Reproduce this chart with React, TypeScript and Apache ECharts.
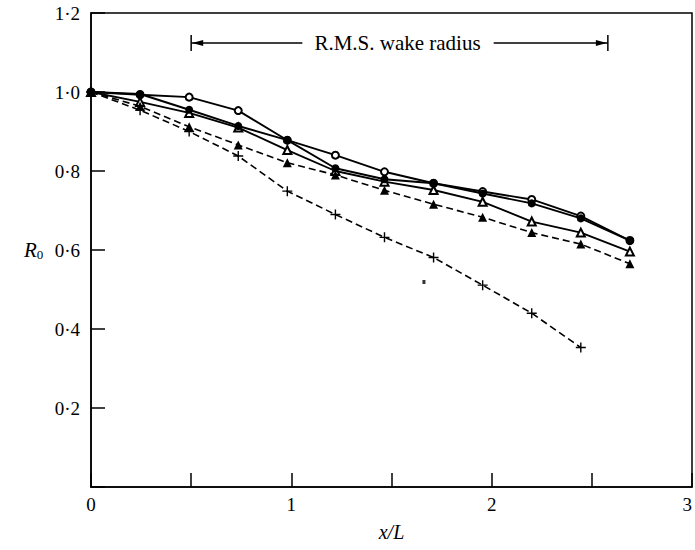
import React, { useEffect, useRef } from "react";
import * as echarts from "echarts";

// x/L stations
const xStations = [0, 0.245, 0.49, 0.735, 0.98, 1.22, 1.465, 1.71, 1.955, 2.2, 2.445, 2.69];
// solid lines
const openCircle = [1.0, 0.993, 0.987, 0.953, 0.878, 0.84, 0.798, 0.769, 0.748, 0.728, 0.686, 0.624];
const filledCircle = [1.0, 0.995, 0.955, 0.914, 0.878, 0.807, 0.779, 0.769, 0.743, 0.718, 0.68, 0.624];
const openTriangle = [1.0, 0.975, 0.947, 0.91, 0.853, 0.8, 0.773, 0.752, 0.722, 0.672, 0.644, 0.596];
// dashed lines
const filledTriangle = [1.0, 0.964, 0.912, 0.866, 0.821, 0.79, 0.751, 0.716, 0.683, 0.644, 0.615, 0.565];
const crosses = [1.0, 0.954, 0.9, 0.838, 0.749, 0.69, 0.632, 0.581, 0.511, 0.44, 0.353];
// stray speck
const speck = [[1.662, 0.519]];

// annotation (data coords)
const annotText = "R.M.S. wake radius";
const annotY = 1.124;
const annotLeft = 0.5;
const annotRight = 2.58;
const annotTextStart = 1.07;
const annotTextEnd = 1.99;

const FONT = "'Liberation Serif', 'DejaVu Serif', serif";
const CROSS = "path://M4.3,0h1.4v4.3h4.3v1.4h-4.3v4.3h-1.4v-4.3h-4.3v-1.4h4.3z";

const pair = (vals: number[]) => vals.map((v, i) => [xStations[i], v]);

export default function App() {
  const ref = useRef<HTMLDivElement>(null);
  useEffect(() => {
    if (!ref.current) return;
    const chart = echarts.init(ref.current, null, { renderer: "svg" });
    const solid = { color: "#000", width: 1.9, type: "solid" as const };
    const dashed = { color: "#000", width: 1.6, type: [7, 4] as any };
    const option: any = {
      animation: false,
      backgroundColor: "#fff",
      grid: {
        left: 91, right: 3, top: 13, bottom: 63,
        outerBoundsMode: "none", containLabel: false,
        show: true, borderColor: "#000", borderWidth: 1.5, backgroundColor: "transparent",
      },
      xAxis: {
        type: "value",
        min: 0,
        max: 3,
        interval: 0.5,
        axisLine: { lineStyle: { color: "#000", width: 1.5 } },
        axisTick: { inside: true, length: 14, lineStyle: { color: "#000", width: 1.5 } },
        splitLine: { show: false },
        axisLabel: {
          color: "#000",
          fontFamily: FONT,
          fontSize: 19,
          margin: 8,
          alignMaxLabel: "right",
          formatter: (v: number) => (Math.abs(v - Math.round(v)) < 1e-6 ? String(Math.round(v)) : ""),
        },
        name: "x/L",
        nameLocation: "middle",
        nameGap: 35,
        nameTextStyle: { color: "#000", fontFamily: FONT, fontSize: 20, fontStyle: "italic" },
      },
      yAxis: {
        type: "value",
        min: 0,
        max: 1.2,
        interval: 0.2,
        axisLine: { lineStyle: { color: "#000", width: 1.5 } },
        axisTick: { inside: true, length: 14, lineStyle: { color: "#000", width: 1.5 } },
        splitLine: { show: false },
        axisLabel: {
          color: "#000",
          fontFamily: FONT,
          fontSize: 19,
          margin: 11,
          formatter: (v: number) => (v === 0 ? "" : v.toFixed(1).replace(".", "·")),
        },
      },
      series: [
        { type: "line", data: pair(openCircle), symbol: "emptyCircle", symbolSize: 7, lineStyle: solid, itemStyle: { color: "#000", borderWidth: 1.4 }, z: 3 },
        { type: "line", data: pair(filledCircle), symbol: "circle", symbolSize: 8, lineStyle: solid, itemStyle: { color: "#000" }, z: 4 },
        { type: "line", data: pair(openTriangle), symbol: "emptyTriangle", symbolSize: 8, lineStyle: solid, itemStyle: { color: "#000", borderWidth: 1.4 }, z: 3 },
        { type: "line", data: pair(filledTriangle), symbol: "triangle", symbolSize: 9, lineStyle: dashed, itemStyle: { color: "#000" }, z: 3 },
        { type: "line", data: pair(crosses), symbol: CROSS, symbolSize: 10, lineStyle: dashed, itemStyle: { color: "#000" }, z: 3 },
        { type: "scatter", data: speck, symbol: "rect", symbolSize: [3, 4], itemStyle: { color: "#000" }, z: 3 },
      ],
    };
    chart.setOption(option);

    const p = (x: number, y: number) => chart.convertToPixel({ gridIndex: 0 }, [x, y]) as number[];
    const L = p(annotLeft, annotY);
    const R = p(annotRight, annotY);
    const TS = p(annotTextStart, annotY);
    const TE = p(annotTextEnd, annotY);
    const cy = L[1];
    const stroke = { stroke: "#000", lineWidth: 1.5 };
    chart.setOption({
      graphic: [
        { type: "line", shape: { x1: L[0], y1: cy - 8, x2: L[0], y2: cy + 8 }, style: stroke },
        { type: "line", shape: { x1: R[0], y1: cy - 8, x2: R[0], y2: cy + 8 }, style: stroke },
        { type: "line", shape: { x1: L[0], y1: cy, x2: TS[0] - 3, y2: cy }, style: stroke },
        { type: "line", shape: { x1: TE[0] + 4, y1: cy, x2: R[0], y2: cy }, style: stroke },
        { type: "polygon", shape: { points: [[L[0] + 1, cy], [L[0] + 12, cy - 3], [L[0] + 12, cy + 3]] }, style: { fill: "#000" } },
        { type: "polygon", shape: { points: [[R[0] - 1, cy], [R[0] - 12, cy - 3], [R[0] - 12, cy + 3]] }, style: { fill: "#000" } },
        {
          type: "text",
          x: (TS[0] + TE[0]) / 2,
          y: cy,
          style: { text: annotText, fill: "#000", font: `21px ${FONT}`, align: "center", verticalAlign: "middle" },
        },
        {
          type: "text",
          x: 24,
          y: 250,
          style: {
            text: "{r|R}{s|0}",
            verticalAlign: "middle",
            rich: {
              r: { fontFamily: FONT, fontSize: 21, fontStyle: "italic", fill: "#000", color: "#000" },
              s: { fontFamily: FONT, fontSize: 13, fill: "#000", color: "#000", padding: [9, 0, 0, 0] },
            },
          },
        },
      ],
    });
    return () => chart.dispose();
  }, []);
  return <div ref={ref} style={{ position: "absolute", left: 0, top: 0, width: 695, height: 550 }} />;
}
